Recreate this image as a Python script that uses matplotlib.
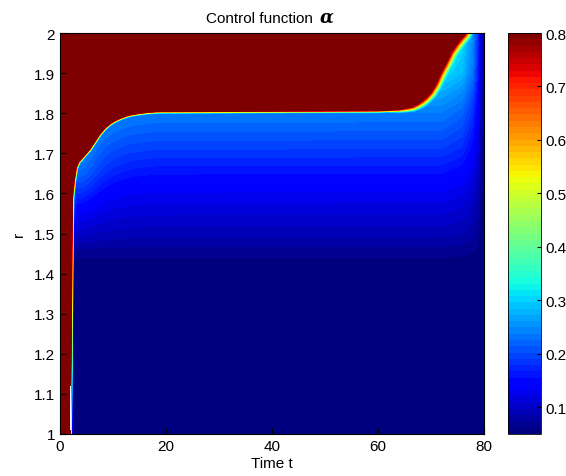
import matplotlib
matplotlib.use('Agg')
import matplotlib.pyplot as plt
import numpy as np

plt.rcParams['font.family'] = ['Liberation Sans', 'DejaVu Sans']
plt.rcParams['font.size'] = 11

# edge of the saturated (alpha >= 0.8) region
edge_t = [1.9, 2.05, 2.2, 2.3, 2.6, 3.0, 3.5, 4.5, 5.5, 6.5, 7.5, 8.5, 9.5, 10.5, 11.7, 13, 14.7,
          16.5, 18.5, 40, 60, 62, 64, 65.5, 66.6, 67.5, 68.3, 69, 69.8, 70.7, 71.7, 72.7, 73.6,
          74.6, 75.5, 76.2, 77]
edge_r = [1.0, 1.2, 1.45, 1.59, 1.63, 1.665, 1.68, 1.695, 1.71, 1.73, 1.75, 1.765, 1.776, 1.784,
          1.791, 1.797, 1.801, 1.804, 1.806, 1.807, 1.808, 1.809, 1.812, 1.816, 1.82, 1.827, 1.835,
          1.843, 1.855, 1.875, 1.905, 1.93, 1.955, 1.975, 1.99, 2.0, 2.02]

# alpha below the edge, as a function of r (read in the middle, t ~ 40)
prof_r = [1.0, 1.40, 1.45, 1.50, 1.55, 1.60, 1.64, 1.71, 1.805, 1.85, 1.9, 2.0]
prof_a = [0.05, 0.05, 0.065, 0.09, 0.11, 0.13, 0.15, 0.19, 0.24, 0.27, 0.31, 0.34]

# darkening towards the final time
fade_t = [0, 72, 76, 78, 79, 79.6, 80]
fade_f = [1.0, 1.0, 0.9, 0.7, 0.45, 0.2, 0.1]

# width (pixels) of the yellow/cyan seam
seam_t = [0, 62, 69, 76, 80]
seam_w = [3.0, 3.0, 9.0, 10.0, 10.0]

amin, amax = 0.05, 0.8
cb_ticks = [0.1, 0.2, 0.3, 0.4, 0.5, 0.6, 0.7, 0.8]

t = np.linspace(0, 80, 848)
r = np.linspace(1, 2, 802)
T, R = np.meshgrid(t, r)

sx, sy = 5.3, 401.0   # pixels per unit t / r
rb = np.interp(T, edge_t, edge_r, left=0.0, right=3.0)
inside = R < rb

# pixel distance to the edge polyline
px, py = T * sx, R * sy
ex, ey = np.array(edge_t) * sx, np.array(edge_r) * sy
d = np.full(T.shape, 1e9)
for i in range(len(ex) - 1):
    ax_, ay_ = ex[i], ey[i]
    bx_, by_ = ex[i + 1], ey[i + 1]
    vx, vy = bx_ - ax_, by_ - ay_
    u = np.clip(((px - ax_) * vx + (py - ay_) * vy) / (vx * vx + vy * vy), 0, 1)
    d = np.minimum(d, np.hypot(px - ax_ - u * vx, py - ay_ - u * vy))

# on the left the bands follow the bend of the edge (less so further down)
shift = np.clip(edge_r[20] - rb, 0, 0.12)
shift = np.where(T < 2.3, 0, shift) * np.clip((R - 1.45) / 0.2, 0, 1)
base = np.interp(R + shift, prof_r, prof_a)
base = amin + (base - amin) * np.interp(T, fade_t, fade_f)
w = np.interp(T, seam_t, seam_w)
s = np.clip(d / w, 0, 1)
s = s * s * (3 - 2 * s)
Z = np.where(inside, 0.85 + (base - 0.85) * s, 0.85)

# small white gap near the bottom of the edge
Z[(T > 1.88) & (T < 2.15) & (R > 1.01) & (R < 1.12)] = np.nan

cmap = plt.get_cmap('jet', 64).copy()
cmap.set_bad('white')

fig = plt.figure(figsize=(5.66, 4.77), dpi=100)
ax = fig.add_axes([60 / 566, 42 / 477, 424 / 566, 401 / 477])
im = ax.imshow(Z, origin='lower', extent=(0, 80, 1, 2), aspect='auto',
               cmap=cmap, vmin=amin, vmax=amax, interpolation='nearest')
ax.set_xticks([0, 20, 40, 60, 80])
ax.set_yticks(np.round(np.arange(1, 2.01, 0.1), 1))
ax.set_yticklabels(['1', '1.1', '1.2', '1.3', '1.4', '1.5', '1.6', '1.7', '1.8', '1.9', '2'])
ax.tick_params(direction='in', length=4)
ax.set_xlabel('Time t', labelpad=2)
ax.set_ylabel('r', labelpad=6)
ax.text(0.597, 1.028, 'Control function', transform=ax.transAxes, ha='right', va='baseline')
ax.text(0.612, 1.028, 'α', transform=ax.transAxes, ha='left', va='baseline',
        family='DejaVu Serif', style='italic', fontweight='bold', fontsize=13)

cax = fig.add_axes([508 / 566, 42 / 477, 33 / 566, 401 / 477])
cb = fig.colorbar(im, cax=cax, ticks=cb_ticks)
cb.ax.tick_params(direction='in', length=3)
cb.outline.set_linewidth(0.6)

fig.savefig('out.png', dpi=100)
